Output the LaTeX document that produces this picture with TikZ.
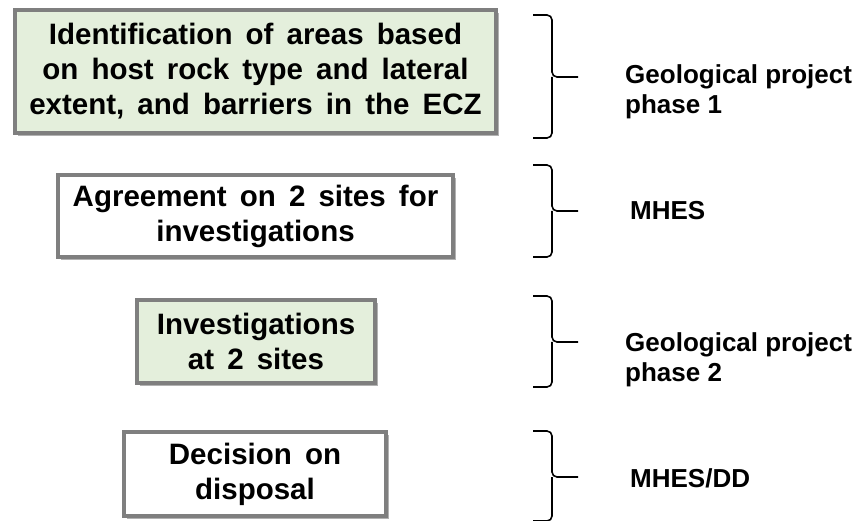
\documentclass[tikz,border=0pt]{standalone}
\usepackage{fontspec}
\setmainfont{Liberation Sans}
\newfontfamily\boxfont[WordSpace=1.6]{Liberation Sans}
\usetikzlibrary{shadows}
\definecolor{boxgreen}{HTML}{E4EFDC}
\definecolor{boxgray}{HTML}{7F7F7F}
\tikzset{
  x=1pt, y=-1pt,
  stage/.style={draw=boxgray, line width=4pt, align=center, inner sep=0pt,
    font=\boxfont\bfseries\fontsize{29.5}{35}\selectfont,
    drop shadow={shadow xshift=3pt, shadow yshift=-3pt, opacity=0.3, fill=black}},
  greenbox/.style={stage, fill=boxgreen},
  whitebox/.style={stage, fill=white},
  lbl/.style={anchor=west, align=left, inner sep=0pt,
    font=\bfseries\fontsize{26}{29.5}\selectfont},
  bracepath/.style={line width=1.6pt, rounded corners=5pt}
}
\begin{document}
\begin{tikzpicture}
\useasboundingbox (0,0) rectangle (857,521);
% boxes
\node[greenbox, minimum width=481pt, minimum height=123pt] (b1) at (255.5,71.5)
  {Identification of areas based\\on host rock type and lateral\\extent, and barriers in the ECZ};
\node[whitebox, minimum width=395pt, minimum height=82pt] (b2) at (255.5,216)
  {Agreement on 2 sites for\\investigations};
\node[greenbox, minimum width=238pt, minimum height=83pt] (b3) at (256,341.5)
  {Investigations\\at 2 sites};
\node[whitebox, minimum width=262pt, minimum height=84pt] (b4) at (255,474)
  {Decision on\\disposal};
% braces
\draw[bracepath] (533,15) -| (552,77) -- (578,77);
\draw[bracepath] (533,138) -| (552,77);
\draw[bracepath] (533,165) -| (552,211) -- (578,211);
\draw[bracepath] (533,257) -| (552,211);
\draw[bracepath] (533,296) -| (552,342) -- (578,342);
\draw[bracepath] (533,387) -| (552,342);
\draw[bracepath] (533,431) -| (552,477) -- (578,477);
\draw[bracepath] (533,521) -| (552,477);
% labels
\node[lbl] (l1) at (625,92) {Geological project\\phase 1};
\node[lbl] (l2) at (630,211) {MHES};
\node[lbl] (l3) at (625,360) {Geological project\\phase 2};
\node[lbl] (l4) at (630,478) {MHES/DD};
\end{tikzpicture}
\end{document}
